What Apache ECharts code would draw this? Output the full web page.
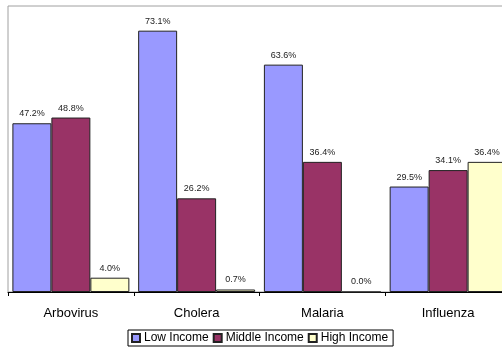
<!DOCTYPE html>
<html>
<head>
<meta charset="utf-8">
<script src="https://cdn.jsdelivr.net/npm/echarts@6/dist/echarts.min.js"></script>
<style>
  html, body { margin: 0; padding: 0; background: #fff; }
  #chart { width: 502px; height: 347px; }
</style>
</head>
<body>
<div id="chart"></div>
<script>
// Share of cases by income group for each disease (percent)
const categories = ['Arbovirus', 'Cholera', 'Malaria', 'Influenza'];
const seriesNames = ['Low Income', 'Middle Income', 'High Income'];
const lowIncome = [47.2, 73.1, 63.6, 29.5];
const middleIncome = [48.8, 26.2, 36.4, 34.1];
const highIncome = [4.0, 0.7, 0.0, 36.4];
const colors = ['#9999FF', '#993366', '#FFFFCC'];

const values = [lowIncome, middleIncome, highIncome];

const chart = echarts.init(document.getElementById('chart'), null, { renderer: 'canvas' });

const font = 'Liberation Sans, Arial, sans-serif';

chart.setOption({
  animation: false,
  backgroundColor: '#fff',
  grid: {
    left: 8, top: 6, width: 503, height: 286,
    outerBoundsMode: 'none',
    containLabel: false,
    show: true, borderColor: '#a0a0a0', borderWidth: 1, backgroundColor: '#fff'
  },
  legend: {
    bottom: 1,
    left: 128,
    data: seriesNames,
    itemWidth: 8,
    itemHeight: 8,
    itemGap: 4,
    padding: [2, 5, 2, 3],
    borderColor: '#000',
    borderWidth: 1,
    textStyle: { fontFamily: font, fontSize: 12, color: '#000', padding: [0, 0, 0, -1] },
    icon: 'rect'
  },
  xAxis: {
    type: 'category',
    data: categories,
    axisLine: { lineStyle: { color: '#000', width: 1 } },
    axisTick: { show: true, length: 4, lineStyle: { color: '#000' } },
    axisLabel: { fontFamily: font, fontSize: 13, color: '#000', margin: 15 },
    splitLine: { show: false }
  },
  yAxis: {
    type: 'value',
    min: 0, max: 80,
    show: false,
    splitLine: { show: false }
  },
  series: seriesNames.map((name, i) => ({
    name,
    type: 'bar',
    data: values[i],
    barGap: '0%',
    barCategoryGap: '7%',
    itemStyle: { color: colors[i], borderColor: '#222', borderWidth: 1 },
    label: {
      show: true,
      position: 'top',
      distance: 5,
      fontFamily: font,
      fontSize: 9,
      color: '#222',
      formatter: p => p.value.toFixed(1) + '%'
    }
  }))
});
</script>
</body>
</html>
